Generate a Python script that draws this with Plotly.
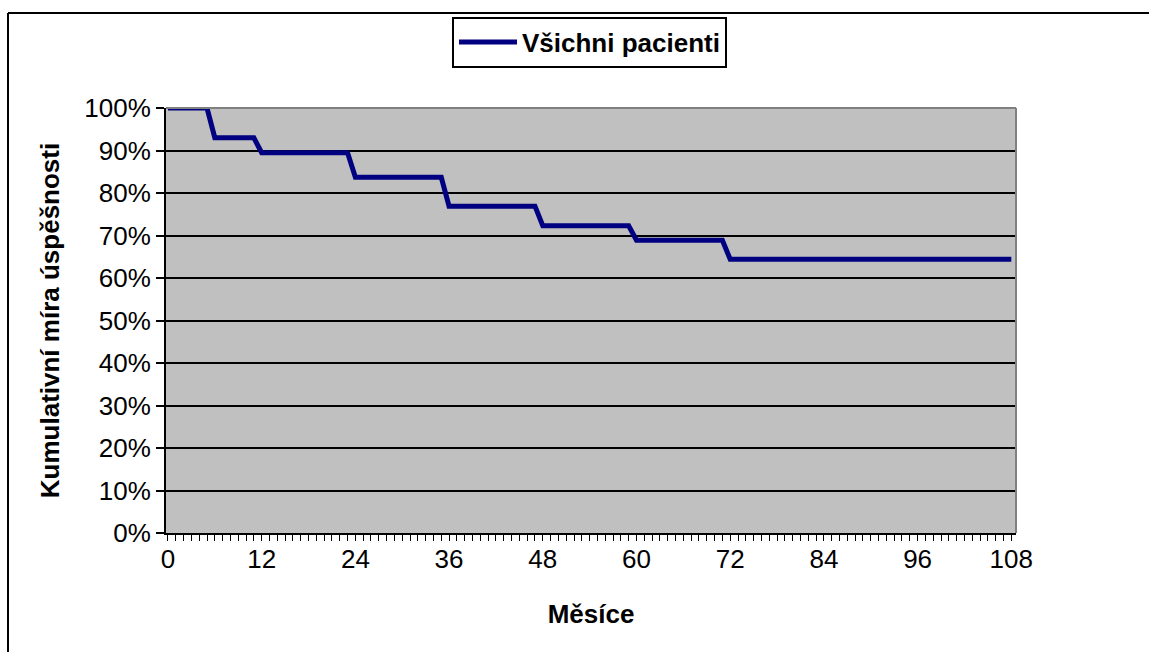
import plotly.graph_objects as go

# Step points of the survival curve (month, cumulative success rate)
months = [0, 5, 6, 11, 12, 23, 24, 35, 36, 47, 48, 59, 60, 71, 72, 108]
rates = [1.0, 1.0, 0.93, 0.93, 0.895, 0.895, 0.837, 0.837, 0.769, 0.769,
         0.723, 0.723, 0.689, 0.689, 0.644, 0.644]
series_name = "Všichni pacienti"
x_title = "Měsíce"
y_title = "Kumulativní míra úspěšnosti"

W, H = 1149, 652
L, R, T, B = 166, 1016, 108, 533
pw, ph = R - L, B - T

def px(x):
    return (x - L) / pw

def py(y):
    return (B - y) / ph

FONT = "Liberation Sans, Arial, sans-serif"
FS = 26

fig = go.Figure()
fig.add_trace(go.Scatter(
    x=months, y=rates, mode="lines", name=series_name,
    line=dict(color="#000080", width=5),
))

fig.update_layout(
    width=W, height=H,
    margin=dict(l=L, r=W - R, t=T, b=H - B),
    paper_bgcolor="white",
    plot_bgcolor="#C0C0C0",
    font=dict(family=FONT, size=FS, color="black"),
    showlegend=True,
    legend=dict(
        x=px(589.5), y=py(42), xanchor="center", yanchor="middle",
        bgcolor="white", bordercolor="black", borderwidth=2,
        font=dict(family=FONT, size=FS, color="black", weight="bold"),
        orientation="h", itemwidth=58,
    ),
    xaxis=dict(
        range=[-0.25, 108.6],
        tickmode="linear", tick0=0, dtick=12,
        ticks="outside", ticklen=6, tickwidth=1, tickcolor="black",
        ticklabelstandoff=-4,
        minor=dict(dtick=1, tick0=0, ticks="outside", ticklen=6,
                   tickwidth=1, tickcolor="black", showgrid=False),
        showgrid=False, zeroline=False,
        showline=True, linecolor="black", linewidth=2,
        tickfont=dict(family=FONT, size=FS),
        title=dict(text=x_title, standoff=32,
                   font=dict(family=FONT, size=FS, weight="bold")),
    ),
    yaxis=dict(
        range=[0, 1.0], tickmode="linear", tick0=0, dtick=0.1,
        tickformat=".0%",
        ticks="outside", ticklen=8, tickwidth=2, tickcolor="black",
        showgrid=True, gridcolor="black", gridwidth=2,
        zeroline=False,
        showline=True, linecolor="black", linewidth=2,
        tickfont=dict(family=FONT, size=FS),
        title=dict(text=y_title, standoff=17,
                   font=dict(family=FONT, size=FS, weight="bold")),
    ),
    shapes=[
        dict(type="line", xref="paper", yref="paper", x0=1, x1=1, y0=0, y1=1,
             line=dict(color="#808080", width=2)),
        dict(type="line", xref="paper", yref="paper", x0=0, x1=1, y0=1, y1=1,
             line=dict(color="#808080", width=2)),
        dict(type="line", xref="paper", yref="paper",
             x0=px(8), x1=px(8), y0=py(13), y1=py(700),
             line=dict(color="black", width=2)),
        dict(type="line", xref="paper", yref="paper",
             x0=px(8), x1=px(1200), y0=py(13), y1=py(13),
             line=dict(color="black", width=2)),
    ],
)

fig.write_html("out.html")
